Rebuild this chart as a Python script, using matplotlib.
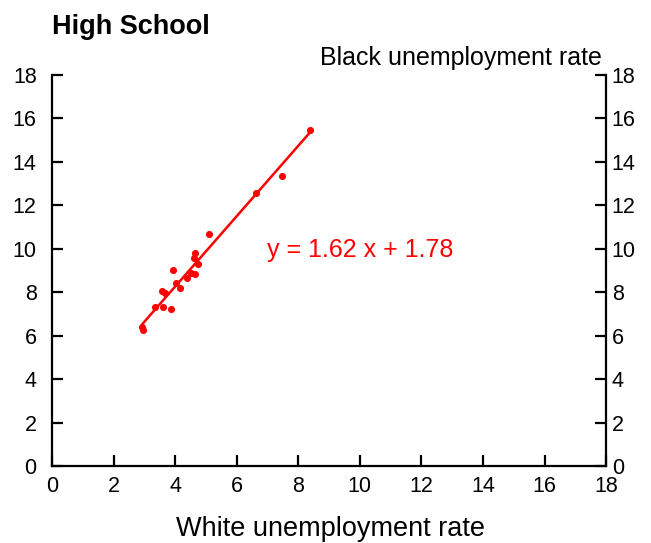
import numpy as np
import matplotlib
matplotlib.use("Agg")
import matplotlib.pyplot as plt
import matplotlib.transforms as mtransforms

plt.rcParams['font.family'] = ['Liberation Sans', 'DejaVu Sans']

# white vs black unemployment rate, high school graduates
white_rate = [2.93, 2.97, 3.35, 3.60, 3.87, 3.58, 3.67, 4.16, 4.02, 4.37, 4.51,
              4.63, 3.94, 4.75, 4.61, 4.63, 5.10, 6.63, 7.46, 8.38]
black_rate = [6.41, 6.26, 7.34, 7.34, 7.21, 8.07, 7.98, 8.18, 8.44, 8.64, 8.90,
              8.84, 9.02, 9.29, 9.59, 9.79, 10.68, 12.56, 13.37, 15.47]
slope = 1.62
intercept = 1.78
ticks = list(range(0, 19, 2))

red = '#ff0000'

fig = plt.figure(figsize=(6.51, 5.43), dpi=100)
ax = fig.add_axes([0.0799, 0.1418, 0.8511, 0.7201])

ax.scatter(white_rate, black_rate, s=26, color=red, zorder=3, linewidths=0)
xs = np.array([min(white_rate), max(white_rate)])
ax.plot(xs, slope * xs + intercept, color=red, lw=1.8, zorder=2)
ax.text(7.0, 9.95, f'y = {slope:.2f} x + {intercept:.2f}', color=red,
        fontsize=18, ha='left', va='center')

ax.set_xlim(0, 18)
ax.set_ylim(0, 18)
ax.set_xticks(ticks)
ax.set_yticks(ticks)
ax.spines['top'].set_visible(False)
for s in ['left', 'right', 'bottom']:
    ax.spines[s].set_linewidth(1.6)
ax.tick_params(axis='both', direction='in', length=8, width=1.6, labelsize=15.5)
ax.tick_params(axis='x', pad=7)
ax.tick_params(axis='y', right=True, labelright=True, pad=11)

# left labels sit further from the axis than the right ones
offset = mtransforms.ScaledTranslation(-7 / 72, 0, fig.dpi_scale_trans)
for t in ax.yaxis.get_major_ticks():
    t.label2.set_transform(t.label2.get_transform() + offset)

fig.text(0.0799, 0.95, 'High School', fontsize=19.5, fontweight='bold', ha='left', va='center')
fig.text(0.925, 0.893, 'Black unemployment rate', fontsize=18, ha='right', va='center')
fig.text(0.507, 0.025, 'White unemployment rate', fontsize=19.5, ha='center', va='center')

fig.savefig('out.png', dpi=100)
